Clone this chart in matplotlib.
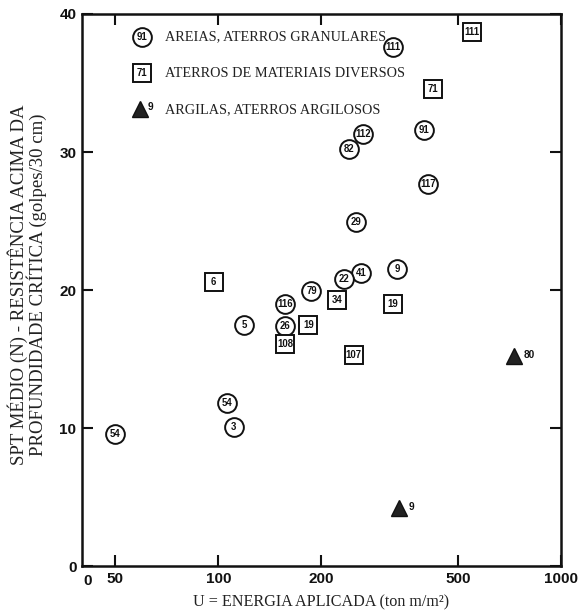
import matplotlib
matplotlib.use("Agg")
import matplotlib.pyplot as plt

# Areias, aterros granulares (circles)
sand_energy = [323, 264, 240, 398, 410, 253, 333, 261, 232, 187, 157, 119, 157, 106, 111, 50]
sand_spt = [37.6, 31.3, 30.2, 31.6, 27.7, 24.9, 21.5, 21.2, 20.8, 19.9, 19.0, 17.5, 17.4, 11.8, 10.1, 9.6]
sand_labels = ["111", "112", "82", "91", "117", "29", "9", "41", "22", "79", "116", "5", "26", "54", "3", "54"]

# Aterros de materiais diversos (squares)
fill_energy = [550, 423, 97, 222, 323, 183, 157, 248]
fill_spt = [38.7, 34.6, 20.6, 19.3, 19.0, 17.5, 16.1, 15.3]
fill_labels = ["111", "71", "6", "34", "19", "19", "108", "107"]

# Argilas, aterros argilosos (triangles)
clay_energy = [727, 336]
clay_spt = [15.2, 4.2]
clay_labels = ["80", "9"]

x_ticks = [50, 100, 200, 500, 1000]
x_tick_labels = ["50", "100", "200", "500", "1000"]
y_ticks = [0, 10, 20, 30, 40]

legend_entries = [
    ("o", "91", "AREIAS, ATERROS GRANULARES"),
    ("s", "71", "ATERROS DE MATERIAIS DIVERSOS"),
    ("^", "9", "ARGILAS, ATERROS ARGILOSOS"),
]

SERIF = "Liberation Serif"
SANS = "Liberation Sans"
INK = "#111111"

fig = plt.figure(figsize=(5.81, 6.11), dpi=100)
ax = fig.add_axes([0.1411, 0.0736, 0.8245, 0.9035])
ax.set_xscale("log")
ax.set_xlim(40, 1000)
ax.set_ylim(0, 40)

num_style = dict(ha="center", va="center", fontsize=6.9, fontweight="bold",
                 family=SANS, color=INK, zorder=4)

# circles with their number inside
ax.plot(sand_energy, sand_spt, ls="none", marker="o", ms=13.5, mfc="white",
        mec=INK, mew=1.4, zorder=3)
for x, y, t in zip(sand_energy, sand_spt, sand_labels):
    ax.text(x, y, t, **num_style)

# squares with their number inside
ax.plot(fill_energy, fill_spt, ls="none", marker="s", ms=13, mfc="white",
        mec=INK, mew=1.4, zorder=3)
for x, y, t in zip(fill_energy, fill_spt, fill_labels):
    ax.text(x, y, t, **num_style)

# filled triangles with the number to the right
ax.plot(clay_energy, clay_spt, ls="none", marker="^", ms=11, mfc="#222222",
        mec=INK, mew=1.0, zorder=3)
for x, y, t in zip(clay_energy, clay_spt, clay_labels):
    ax.annotate(t, (x, y), xytext=(7, 1), textcoords="offset points",
                ha="left", va="center", fontsize=7.3, fontweight="bold",
                family=SANS, color=INK)

# legend drawn by hand inside the plot area
leg_y = [0.958, 0.893, 0.827]
for (mk, num, text), yy in zip(legend_entries, leg_y):
    if mk == "^":
        ax.plot([0.121], [yy], transform=ax.transAxes, marker="^", ms=11,
                mfc="#222222", mec=INK, clip_on=False)
        ax.text(0.136, yy + 0.004, num, transform=ax.transAxes, ha="left",
                va="center", fontsize=7.3, fontweight="bold", family=SANS, color=INK)
    else:
        ax.plot([0.125], [yy], transform=ax.transAxes, marker=mk,
                ms=13.5 if mk == "o" else 13, mfc="white", mec=INK, mew=1.4,
                clip_on=False)
        ax.text(0.125, yy, num, transform=ax.transAxes, **num_style)
    ax.text(0.173, yy, text, transform=ax.transAxes, ha="left", va="center",
            fontsize=10.3, family=SERIF, color="#222222")

# axes frame and ticks
for sp in ax.spines.values():
    sp.set_linewidth(1.8)
    sp.set_color(INK)

ax.set_xticks(x_ticks)
ax.set_xticklabels(x_tick_labels)
ax.xaxis.set_minor_locator(matplotlib.ticker.NullLocator())
ax.set_yticks(y_ticks)
ax.tick_params(axis="both", which="major", direction="in", length=8, width=1.5,
               top=True, right=True, colors=INK, labelsize=11, pad=4)
for lab in ax.get_xticklabels() + ax.get_yticklabels():
    lab.set_fontweight("bold")
    lab.set_family(SANS)
ax.text(0.011, -0.014, "0", transform=ax.transAxes, ha="center", va="top",
        fontsize=11, fontweight="bold", family=SANS, color=INK)

ax.set_xlabel("U = ENERGIA APLICADA (ton m/m²)", family=SERIF, fontsize=11.6,
              color="#222222", labelpad=6)
ax.set_ylabel("SPT MÉDIO (N) - RESISTÊNCIA ACIMA DA\nPROFUNDIDADE CRÍTICA (golpes/30 cm)",
              family=SERIF, fontsize=13.5, color="#222222", labelpad=9,
              linespacing=0.95)
ax.yaxis.set_label_coords(-0.072, 0.51)

fig.savefig("out.png", dpi=100)
